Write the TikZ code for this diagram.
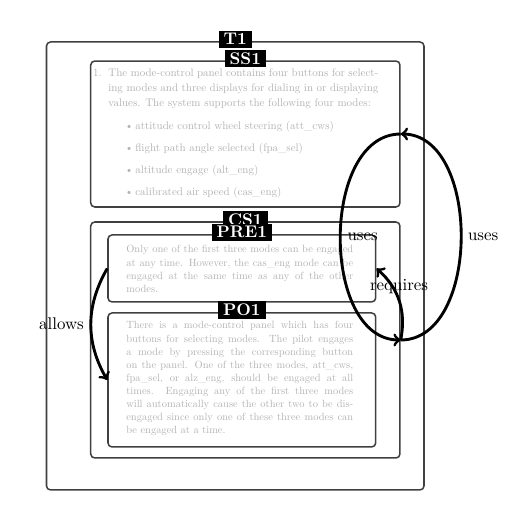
\documentclass[tikz,border=0pt]{standalone}
\usepackage{fontspec}
\newfontfamily\notefont{lmroman10-regular.otf}
\usetikzlibrary{fit}
\tikzset{
  box/.style={draw=black!75,line width=0.9pt,rounded corners=2.4pt,inner sep=0pt},
  tag/.style={fill=black,text=white,font=\bfseries,inner xsep=3pt,inner ysep=1.6pt,yshift=1.2pt},
  note/.style={anchor=base west,inner sep=0pt,text=black!30},
  rel/.style={->,line width=1.7pt}
}
\newcommand{\ssnote}{\notefont\fontsize{6.5}{8.88}\selectfont}
\newcommand{\ponote}{\notefont\fontsize{6.2}{7.75}\selectfont}
\newcommand{\modeitem}[1]{\hspace*{9.8pt}\makebox[6.2pt][l]{\textbullet}#1\par}

\begin{document}
\begin{tikzpicture}
\useasboundingbox (0,0) rectangle (10.773,-10.794);
% boxes
\node[box,fit={(0.967,-0.873) (8.818,-10.190)}] (t1) {};
\node[box,fit={(1.887,-1.269) (8.318,-4.305)}] (ss1) {};
\node[box,fit={(1.887,-4.617) (8.318,-9.525)}] (cs1) {};
\node[box,fit={(2.246,-4.887) (7.814,-6.280)}] (pre1) {};
\node[box,fit={(2.246,-6.509) (7.814,-9.296)}] (po1) {};
% tags
\node[tag] (t1tag) at (t1.north) {T1};
\node[tag] (ss1tag) at (ss1.north) {SS1};
\node[tag] (cs1tag) at (cs1.north) {CS1};
\node[tag] (pre1tag) at (pre1.north) {PRE1};
\node[tag] (po1tag) at (po1.north) {PO1};
% texts
\node[note] (ss1txt) at (2.246,-1.601) {\begin{minipage}[t]{159.8pt}\ssnote
\noindent\llap{1.\hspace{4pt}}The mode-control panel contains four buttons for select-\linebreak ing modes and three displays for dialing in or displaying\linebreak values. The system supports the following four modes:\par
\vspace{4.7pt}
\modeitem{attitude control wheel steering (att\_cws)}\vspace{4.1pt}
\modeitem{flight path angle selected (fpa\_sel)}\vspace{4.1pt}
\modeitem{altitude engage (alt\_eng)}\vspace{4.1pt}
\modeitem{calibrated air speed (cas\_eng)}
\end{minipage}};
\node[note] (pre1txt) at (2.620,-5.261) {\begin{minipage}[t]{134.3pt}\ponote
Only one of the first three modes can be engaged\linebreak at any time. However, the cas\_eng mode can be\linebreak engaged at the same time as any of the other\linebreak modes.
\end{minipage}};
\node[note] (po1txt) at (2.620,-6.842) {\begin{minipage}[t]{134.3pt}\ponote
There is a mode-control panel which has four\linebreak buttons for selecting modes. The pilot engages\linebreak a mode by pressing the corresponding button\linebreak on the panel. One of the three modes, att\_cws,\linebreak fpa\_sel, or alz\_eng, should be engaged at all\linebreak times. Engaging any of the first three modes\linebreak will automatically cause the other two to be dis-\linebreak engaged since only one of these three modes can\linebreak be engaged at a time.
\end{minipage}};
% relations
\draw[rel] (cs1.east) to[bend right=90] node[right] {uses} (ss1.east);
\draw[rel] (ss1.east) to[bend right=90] node[right] {uses} (cs1.east);
\draw[rel] (cs1.east) to[bend right=30] node[above] {requires} (pre1.east);
\draw[rel] (pre1.west) to[bend right=30] node[left] {allows} (po1.west);
\end{tikzpicture}
\end{document}
